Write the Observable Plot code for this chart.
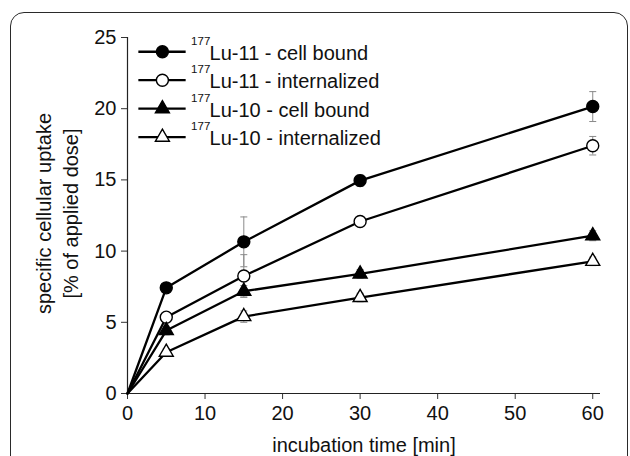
<!DOCTYPE html>
<html>
<head>
<meta charset="utf-8">
<script src="https://cdn.jsdelivr.net/npm/d3@7"></script>
<script src="https://cdn.jsdelivr.net/npm/@observablehq/plot@0.6"></script>
<style>
  html, body { margin: 0; padding: 0; width: 630px; height: 456px; overflow: hidden; background: #fff; }
  #frame { position: absolute; left: 10px; top: 12px; width: 616px; height: 520px; border: 1.6px solid #2a2a2a; border-radius: 14px; }
  #chart { position: absolute; left: 0; top: 0; }
  svg { font-family: "Liberation Sans", Arial, sans-serif; }
</style>
</head>
<body>
<div id="frame"></div>
<div id="chart"></div>
<script>
// ---- data ----
const times = [0, 5, 15, 30, 60];
const lu11Bound = [0, 7.42, 10.65, 14.95, 20.15];
const lu11Internal = [0, 5.36, 8.25, 12.08, 17.4];
const lu10Bound = [0, 4.42, 7.18, 8.4, 11.08];
const lu10Internal = [0, 2.9, 5.4, 6.74, 9.28];
const lu11BoundErr = [0, 0.3, 1.75, 0.4, 1.05];
const lu11InternalErr = [0, 0.3, 1.5, 0.25, 0.65];
const lu10BoundErr = [0, 0.3, 0.4, 0.3, 0.35];
const lu10InternalErr = [0, 0.25, 0.4, 0.3, 0.3];
const isotope = "177";
const seriesLabels = ["Lu-11 - cell bound", "Lu-11 - internalized", "Lu-10 - cell bound", "Lu-10 - internalized"];
const seriesSymbols = ["circle", "circle", "triangle", "triangle"];
const seriesFilled = [true, false, true, false];
const xTicks = [0, 10, 20, 30, 40, 50, 60];
const yTicks = [0, 5, 10, 15, 20, 25];

const allValues = [lu11Bound, lu11Internal, lu10Bound, lu10Internal];
const allErrs = [lu11BoundErr, lu11InternalErr, lu10BoundErr, lu10InternalErr];

const rows = [];
allValues.forEach((vals, s) => {
  vals.forEach((v, i) => rows.push({s, t: times[i], v, e: allErrs[s][i]}));
});
const errRows = rows.filter(d => d.e > 0);

// legend rows, placed in data units in the upper-left of the plot
const legend = seriesLabels.map((label, i) => ({
  s: i, label, y: 24 - 2 * i, x1: 1.4, x2: 7.5, xm: 4.5, xt: 8.2
}));

const cap = { draw(ctx) { ctx.moveTo(-3.5, 0); ctx.lineTo(3.5, 0); } };
const FS = 20;

const marks = [
  Plot.ruleX([0], {stroke: "#222", strokeWidth: 1.2}),
  Plot.ruleY([0], {stroke: "#222", strokeWidth: 1.2}),
  // error bars
  Plot.ruleX(errRows, {x: "t", y1: d => d.v - d.e, y2: d => d.v + d.e, stroke: "#8a8a8a", strokeWidth: 1}),
  Plot.dot(errRows, {x: "t", y: d => d.v + d.e, symbol: cap, stroke: "#8a8a8a", strokeWidth: 1}),
  Plot.dot(errRows, {x: "t", y: d => d.v - d.e, symbol: cap, stroke: "#8a8a8a", strokeWidth: 1}),
  // lines
  Plot.line(rows, {x: "t", y: "v", z: "s", stroke: "#000", strokeWidth: 2.3}),
];
for (let s = 0; s < 4; s++) {
  const sub = rows.filter(d => d.s === s && d.t > 0);
  const r = seriesSymbols[s] === "circle" ? 6 : 5.2;
  marks.push(Plot.dot(sub, {x: "t", y: "v", symbol: seriesSymbols[s], r,
    fill: seriesFilled[s] ? "#000" : "#fff", stroke: "#000", strokeWidth: 1.4}));
}
// legend
marks.push(Plot.link(legend, {x1: "x1", x2: "x2", y1: "y", y2: "y", stroke: "#000", strokeWidth: 2.3}));
for (let s = 0; s < 4; s++) {
  const r = seriesSymbols[s] === "circle" ? 6 : 5.2;
  marks.push(Plot.dot(legend.filter(d => d.s === s), {x: "xm", y: "y", symbol: seriesSymbols[s], r,
    fill: seriesFilled[s] ? "#000" : "#fff", stroke: "#000", strokeWidth: 1.4}));
}
marks.push(Plot.text(legend, {x: "xt", y: "y", text: () => isotope, textAnchor: "start", fontSize: 11.5, dy: -10.5, fill: "#111"}));
marks.push(Plot.text(legend, {x: "xt", y: "y", text: "label", textAnchor: "start", fontSize: FS, dx: 18.5, dy: 1.5, fill: "#111"}));
// axis titles
marks.push(Plot.text(["specific cellular uptake\n[% of applied dose]"], {
  frameAnchor: "left", textAnchor: "middle", lineAnchor: "middle", rotate: -90, dx: -71.5, dy: -2,
  fontSize: FS, lineHeight: 1.35, fill: "#111", text: d => d
}));
marks.push(Plot.text(["incubation time [min]"], {
  frameAnchor: "bottom", textAnchor: "middle", lineAnchor: "middle", dy: 52, fontSize: FS, fill: "#111", text: d => d
}));

const chart = Plot.plot({
  width: 630,
  height: 456,
  marginLeft: 127,
  marginRight: 30,
  marginTop: 37,
  marginBottom: 63,
  style: {fontFamily: "'Liberation Sans', Arial, sans-serif", background: "transparent", color: "#111"},
  x: {domain: [0, 61], label: null},
  y: {domain: [0, 25], label: null},
  marks: [
    Plot.axisX({ticks: xTicks, tickSize: 6, tickPadding: 6, fontSize: FS, label: null, stroke: "#333", tickFormat: d => d}),
    Plot.axisY({ticks: yTicks, tickSize: 6, tickPadding: 5, fontSize: FS, label: null, stroke: "#333"}),
    ...marks
  ]
});
document.getElementById("chart").appendChild(chart);
</script>
</body>
</html>
